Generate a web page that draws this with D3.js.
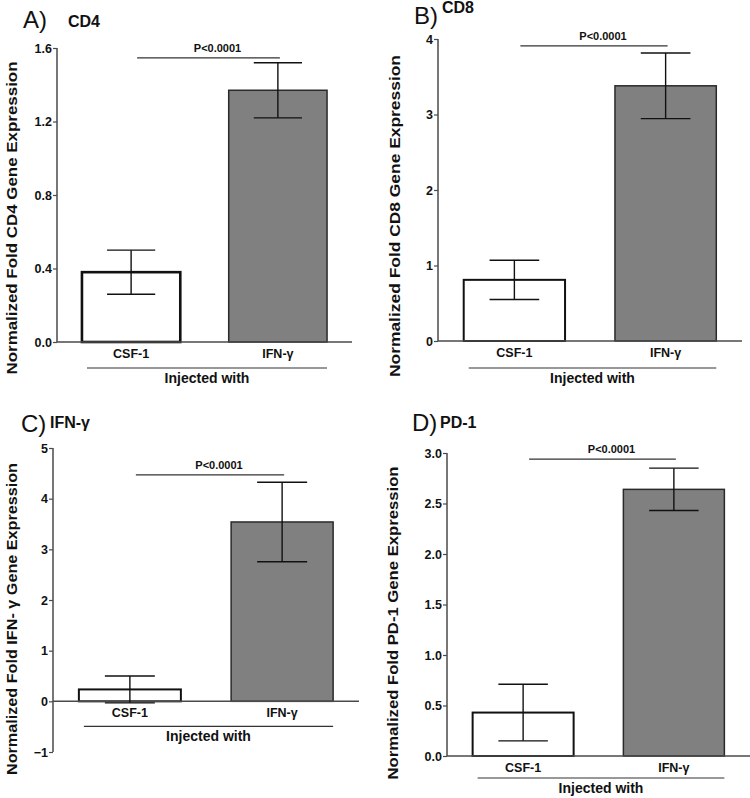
<!DOCTYPE html>
<html><head><meta charset="utf-8">
<script src="https://cdn.jsdelivr.net/npm/d3@7"></script>
<style>body{margin:0;background:#fff}svg{display:block}text{font-family:Arial,"Liberation Sans",sans-serif}</style>
</head><body>
<svg id="c" width="750" height="798"></svg>
<script>
// ---- data ----
const categories = ["CSF-1", "IFN-γ"];
const panelLetters = ["A)", "B)", "C)", "D)"];
const panelGenes = ["CD4", "CD8", "IFN-γ", "PD-1"];
const yLabels = [
  "Normalized Fold CD4 Gene Expression",
  "Normalized Fold CD8 Gene Expression",
  "Normalized Fold IFN- γ Gene Expression",
  "Normalized Fold PD-1 Gene Expression"
];
const meansA = [0.38, 1.37], errA = [0.12, 0.15];
const meansB = [0.81, 3.38], errB = [0.26, 0.435];
const meansC = [0.235, 3.54], errC = [0.265, 0.785];
const meansD = [0.43, 2.64], errD = [0.28, 0.21];
const ticksA = [0, 0.4, 0.8, 1.2, 1.6];
const ticksB = [0, 1, 2, 3, 4];
const ticksC = [-1, 0, 1, 2, 3, 4, 5];
const ticksD = [0, 0.5, 1.0, 1.5, 2.0, 2.5, 3.0];
const pLabel = "P<0.0001";
const pLevels = [1.546, 3.91, 4.47, 2.94];
const xTitle = "Injected with";

// ---- layout ----
const layout = [
  {means: meansA, err: errA, ticks: ticksA, fmt: ".1f", domain: [0, 1.6], x0: 57, x1: 352, yTop: 48, yBot: 342,
   letterX: 23, letterY: 28, geneX: 68, geneY: 27, ylx: 12, yly: 218, ylLen: 313, csfStroke: 2.6, brk: 26},
  {means: meansB, err: errB, ticks: ticksB, fmt: "d", domain: [0, 4], x0: 438, x1: 742, yTop: 39, yBot: 341,
   letterX: 414, letterY: 24, geneX: 442, geneY: 13, ylx: 395, yly: 216, ylLen: 322, csfStroke: 2, brk: 27},
  {means: meansC, err: errC, ticks: ticksC, fmt: "d", domain: [-1, 5], x0: 53, x1: 359, yTop: 448, yBot: 752,
   letterX: 21, letterY: 432, geneX: 50, geneY: 428, ylx: 12, yly: 619, ylLen: 312, csfStroke: 2, brk: 25},
  {means: meansD, err: errD, ticks: ticksD, fmt: ".1f", domain: [0, 3], x0: 447, x1: 750, yTop: 453, yBot: 756,
   letterX: 412, letterY: 431, geneX: 440, geneY: 428, ylx: 393, yly: 623, ylLen: 313, csfStroke: 2, brk: 22}
];

const svg = d3.select("#c");
const axisCol = "#4a4a4a";

layout.forEach((L, i) => {
  const g = svg.append("g");
  const x = d3.scaleBand().domain(categories).range([L.x0, L.x1]).paddingInner(0.33).paddingOuter(0.17);
  const y = d3.scaleLinear().domain(L.domain).range([L.yBot, L.yTop]);
  const bw = x.bandwidth();
  const zeroY = y(0);

  // bars
  categories.forEach((c, j) => {
    const v = L.means[j];
    const top = y(Math.max(0, v)), bot = y(Math.min(0, v));
    g.append("rect")
      .attr("x", x(c)).attr("y", top).attr("width", bw).attr("height", bot - top)
      .attr("fill", j === 0 ? "#fff" : "#808080")
      .attr("stroke", j === 0 ? "#111" : "#2a2a2a")
      .attr("stroke-width", j === 0 ? L.csfStroke : 1.5);
  });

  // y axis
  const yAxis = d3.axisLeft(y).tickValues(L.ticks).tickSize(4).tickPadding(1)
    .tickFormat(d3.format(L.fmt));
  const ya = g.append("g").attr("transform", `translate(${L.x0},0)`).call(yAxis);
  ya.select(".domain").attr("stroke", axisCol).attr("stroke-width", 1.5).attr("d", `M0,${L.yTop}V${L.yBot}`);
  ya.selectAll(".tick line").attr("stroke", axisCol).attr("stroke-width", 1.2);
  ya.selectAll(".tick text").attr("font-size", 12.5).attr("font-weight", "bold").attr("fill", "#111")
    .attr("font-family", "Arial, 'Liberation Sans', sans-serif");

  // x axis line at zero
  g.append("line").attr("x1", L.x0).attr("x2", L.x1).attr("y1", zeroY).attr("y2", zeroY)
    .attr("stroke", axisCol).attr("stroke-width", 1.5);

  // error bars
  categories.forEach((c, j) => {
    const cx = x(c) + bw / 2;
    const hi = y(L.means[j] + L.err[j]), lo = y(L.means[j] - L.err[j]);
    const cap = bw * 0.245;
    g.append("line").attr("x1", cx).attr("x2", cx).attr("y1", hi).attr("y2", lo)
      .attr("stroke", "#111").attr("stroke-width", 1.4);
    [hi, lo].forEach(yy => g.append("line").attr("x1", cx - cap).attr("x2", cx + cap)
      .attr("y1", yy).attr("y2", yy).attr("stroke", "#111").attr("stroke-width", 1.4));
  });

  // category labels
  categories.forEach(c => {
    g.append("text").attr("x", x(c) + bw / 2).attr("y", zeroY + 16)
      .attr("text-anchor", "middle").attr("font-size", 12.5).attr("font-weight", "bold").attr("fill", "#111")
      .text(c);
  });

  // "Injected with" bracket
  const lx0 = x(categories[0]) + 5, lx1 = x(categories[1]) + bw;
  const ly = zeroY + L.brk;
  g.append("line").attr("x1", lx0).attr("x2", lx1).attr("y1", ly).attr("y2", ly)
    .attr("stroke", "#333").attr("stroke-width", 1.2);
  g.append("text").attr("x", (lx0 + lx1) / 2).attr("y", ly + 15).attr("text-anchor", "middle")
    .attr("font-size", 14).attr("font-weight", "bold").attr("fill", "#111").text(xTitle);

  // p-value bracket
  const c0 = x(categories[0]) + bw / 2 + 6, c1 = x(categories[1]) + bw / 2 + 2;
  const py = y(pLevels[i]);
  g.append("line").attr("x1", c0).attr("x2", c1).attr("y1", py).attr("y2", py)
    .attr("stroke", "#333").attr("stroke-width", 1.2);
  g.append("text").attr("x", (c0 + c1) / 2 + 9).attr("y", py - 6).attr("text-anchor", "middle")
    .attr("font-size", 11).attr("font-weight", "bold").attr("fill", "#111").text(pLabel);

  // y label
  g.append("text").attr("transform", `translate(${L.ylx + 5},${L.yly}) rotate(-90)`)
    .attr("text-anchor", "middle").attr("font-size", 14).attr("font-weight", "bold").attr("fill", "#111")
    .attr("textLength", L.ylLen).attr("lengthAdjust", "spacingAndGlyphs")
    .text(yLabels[i]);

  // panel letter and gene title
  g.append("text").attr("x", L.letterX).attr("y", L.letterY).attr("font-size", 24).attr("fill", "#111")
    .text(panelLetters[i]);
  g.append("text").attr("x", L.geneX).attr("y", L.geneY).attr("font-size", 16).attr("font-weight", "bold").attr("fill", "#111")
    .text(panelGenes[i]);
});
</script>
</body></html>
